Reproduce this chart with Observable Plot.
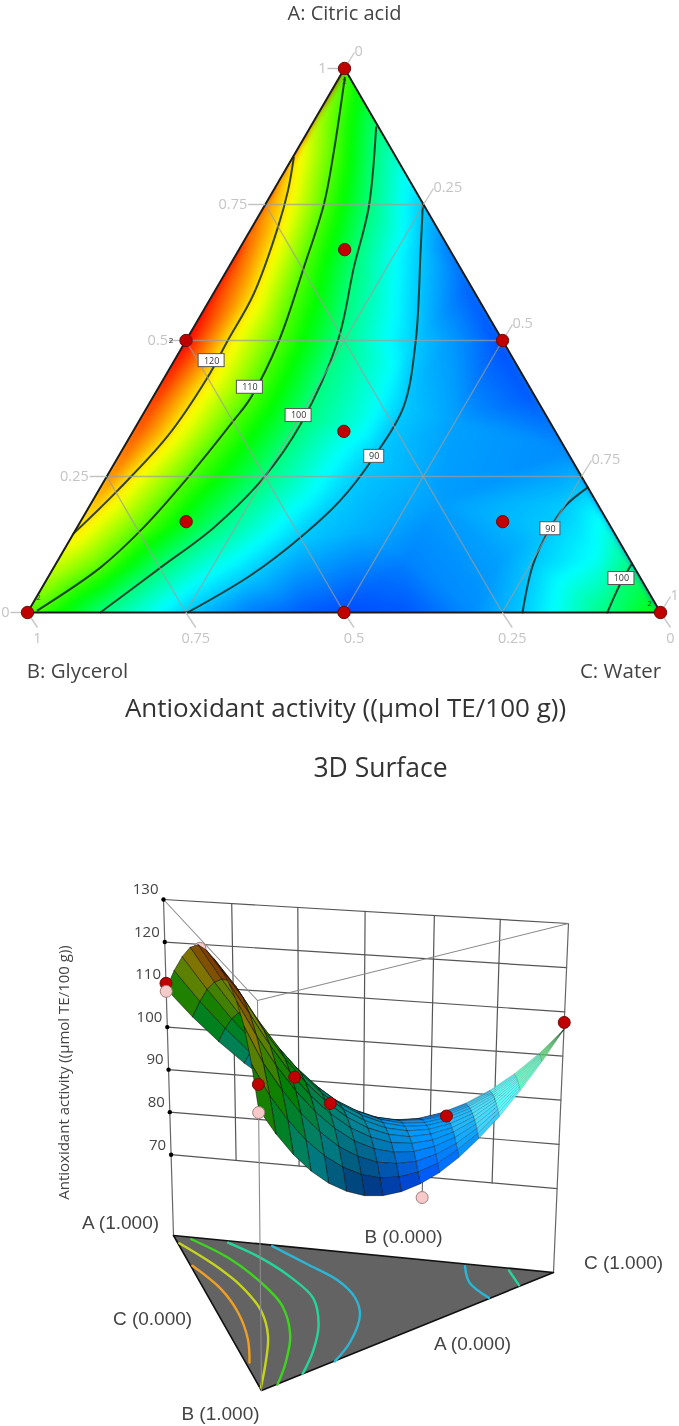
<!DOCTYPE html>
<html><head><meta charset="utf-8">
<script src="https://cdn.jsdelivr.net/npm/d3@7"></script>
<script src="https://cdn.jsdelivr.net/npm/@observablehq/plot@0.6"></script>
<style>html,body{margin:0;padding:0;background:#fff}svg{display:block;filter:blur(.4px)}</style>
</head><body><div id="chart"></div>
<script>
// ---------- data: [A, C] fractions along each contour ----------
const contour120 = [[.836,.002],[.776,.023],[.708,.041],[.586,.064],[.5,.066],[.432,.068],[.324,.059],[.224,.03],[.145,0]];
const contour110 = [[.983,.009],[.849,.059],[.752,.092],[.634,.119],[.5,.147],[.395,.155],[.353,.149],[.248,.129],[.156,.105],[.083,.074],[.004,.014]];
const contour100 = [[.892,.104],[.745,.166],[.634,.198],[.5,.24],[.347,.258],[.248,.249],[.156,.216],[.083,.169],[0,.115]];
const contour90 = [[.752,.248],[.665,.288],[.5,.363],[.377,.405],[.285,.404],[.206,.391],[.138,.362],[.068,.318],[0,.253]];
const contour90b = [[.23,.77],[.197,.752],[.151,.748],[.086,.755],[0,.782]];
const contour100b = [[.09,.91],[.053,.91],[0,.916]];
// further response values: [A, C, response]
const responseSpots = [
  [1,0,109],[.91,0,115],[.75,0,124],[.65,0,128],[.5,0,131],[.35,0,128],[.25,0,125],[.07,0,115],[0,0,109],
  [0,.35,85],[0,.43,83],[0,.5,81.8],[0,.6,82.5],[0,.7,86],[0,1,106],
  [.95,.05,105],[.67,.33,85],[.6,.4,83],[.5,.5,82],[.4,.6,82.5],[.3,.7,86],[.16,.84,95],[.04,.96,103],
  [.5,.42,86.9],[.35,.5,87.3],[.2,.55,87.1],[.1,.55,85.5],[.1,.7,87.4],[.35,.35,94.9],[.15,.45,88.4],[.45,.35,93.7],[.1,.85,94]
];
const contourLabels = [["120",.463,.059],["110",.414,.144],["100",.362,.247],["90",.287,.404],["90",.154,.749],["100",.0625,.907]];
const designA = [1,.5,.5,0,0,0,.667,.333,.167,.167];
const designC = [0,0,.5,0,.5,1,.167,.333,.167,.667];
const replicated = [[1,0],[.5,0],[0,0],[0,1]];
const tickValues = [0,.25,.5,.75,1];
const tickLabels = ["0","0.25","0.5","0.75","1"];

// surface response, rows go from the A-B edge to the C vertex, columns from A to B
const surface = [
 [109,115.8,121.3,125.6,128.2,129,128.9,128.3,127,125,121.5,115.5,108],
 [102.8,108.9,113.9,117.7,120.4,122,122.5,121.9,120.1,117.2,113.2,108.1,101.9],
 [97.5,102.9,107.3,110.7,113.1,114.5,114.9,114.3,112.8,110.2,106.7,102.1,96.6],
 [92.9,97.6,101.5,104.5,106.6,107.8,108.2,107.7,106.3,104.1,100.9,96.9,92.1],
 [89.1,93.2,96.6,99.1,101,102,102.4,101.9,100.7,98.8,96.1,92.6,88.4],
 [86.2,89.6,92.5,94.7,96.3,97.2,97.4,97.1,96,94.4,92,89.1,85.5],
 [84,86.9,89.3,91.1,92.4,93.2,93.4,93.1,92.2,90.8,88.9,86.4,83.3],
 [82.6,85,87,88.5,89.6,90.2,90.4,90.1,89.4,88.2,86.6,84.5,82],
 [82,83.9,85.5,86.7,87.6,88.1,88.2,88,87.4,86.5,85.2,83.5,81.5],
 [82.2,83.7,84.9,85.9,86.5,86.9,87,86.8,86.4,85.7,84.6,83.3,81.8],
 [83.2,84.3,85.2,86,86.4,86.7,86.8,86.7,86.3,85.8,85,84,82.8],
 [85,85.8,86.4,86.9,87.3,87.5,87.5,87.4,87.2,86.8,86.2,85.6,84.7],
 [87.6,88.1,88.5,88.9,89.1,89.2,89.2,89.1,89,88.7,88.4,87.9,87.4],
 [91,91.3,91.5,91.7,91.8,91.9,91.9,91.9,91.8,91.6,91.4,91.2,90.8],
 [95.2,95.3,95.4,95.5,95.6,95.6,95.6,95.6,95.5,95.4,95.3,95.2,95.1],
 [100.2,100.2,100.2,100.3,100.3,100.3,100.3,100.3,100.3,100.2,100.2,100.1,100.1],
 [106,106,106,106,106,106,106,106,106,106,106,106,106]
];
// floor contours of the 3D panel: [B, C] fractions
const floorCyan = [[.005,.251],[.095,.324],[.177,.388],[.278,.416],[.387,.409],[.574,.348],[.731,.272]];
const floorTeal = [[.011,.136],[.081,.202],[.186,.261],[.306,.296],[.483,.275],[.668,.222],[.845,.155]];
const floorGreen = [[.012,.042],[.102,.115],[.229,.168],[.373,.197],[.571,.177],[.778,.119],[.943,.06]];
const floorYellow = [[.042,.004],[.146,.063],[.265,.108],[.421,.129],[.587,.111],[.793,.058],[.978,.003]];
const floorOrange = [[.171,.005],[.301,.048],[.448,.06],[.624,.046],[.793,.012]];
const floorCyanB = [[.014,.758],[.111,.756],[.198,.798]];
const floorTealB = [[.014,.877],[.1,.894]];
// 3D design points: A, B, C, response
const redPoints = [[1,0,0,110.3],[0,1,0,113],[.16,.667,.173,108.2],[.33,.333,.337,95],[.16,.165,.675,89.4],[0,0,1,107.6]];
const pinkBehind = [[.65,.35,0,127.8]];
const pinkFront = [[1,0,0,108.4],[0,1,0,107.3],[0,.43,.57,78.7]];
const zTicks = [70,80,90,100,110,120,130];
const wallFractions = [.163,.323,.488,.66,.826];

// ---------- layout ----------
const W = 679, H = 1426;
const T = {A:[344,68],B:[27,612],C:[660,612]};
const xy = (a,c) => { const b = 1-a-c; return {x:a*T.A[0]+b*T.B[0]+c*T.C[0], y:a*T.A[1]+b*T.B[1]+c*T.C[1]}; };
const stops = [81,93.5,106,118.5,131];
const stopColors = ["#0040ff","#00ffff","#00ff00","#ffff00","#ff0000"];
const rainbow = d3.scaleLinear().domain(stops).range(stopColors).clamp(true);

// 3D camera, read from the box corners
const floor3 = {A:[173,1235],B:[261,1390],C:[553,1272]}, top3 = {A:[163,899],B:[257,1000],C:[568,923]};
const persp = {A:4.25,B:4.94,C:4.42};
function p3(a,b,c,z){
  const f=(z-51)/79; let sx=0,sy=0,sw=0;
  for(const [k,v] of [["A",a],["B",b],["C",c]]){
    const w=v*persp[k]; sw+=w;
    sx+=w*(floor3[k][0]+(top3[k][0]-floor3[k][0])*f);
    sy+=w*(floor3[k][1]+(top3[k][1]-floor3[k][1])*f);
  }
  return {x:sx/sw,y:sy/sw,depth:sw};
}
const series = (id,pts,map) => pts.map(p=>({id,...map(p)}));

// heat field
const field = [];
for(const [lvl,arr] of [[120,contour120],[110,contour110],[100,contour100],[90,contour90],[90,contour90b],[100,contour100b]])
  for(const [a,c] of arr) field.push({...xy(a,c),z:lvl});
for(const [a,c,z] of responseSpots) field.push({...xy(a,c),z});

const contours = [contour120,contour110,contour100,contour90,contour90b,contour100b]
  .flatMap((arr,i)=>series(i,arr,([a,c])=>xy(a,c)));

// grid
const grid = [];
for(const v of [.25,.5,.75]){
  grid.push(...series("a"+v,[[v,0],[v,1-v]],([a,c])=>xy(a,c)));
  grid.push(...series("b"+v,[[1-v,0],[0,1-v]],([a,c])=>xy(a,c)));
  grid.push(...series("c"+v,[[1-v,v],[0,v]],([a,c])=>xy(a,c)));
}
const leftT = tickValues.map((v,i)=>({...xy(v,0),label:tickLabels[i]}));
const rightT = tickValues.map((v,i)=>({...xy(1-v,v),label:tickLabels[i]}));
const bottomT = tickValues.map((v,i)=>({...xy(0,v),label:tickLabels[tickLabels.length-1-i]}));
const triPts = [T.A,T.B,T.C,T.A].map(p=>({x:p[0],y:p[1]}));
const covers = [
  ...[T.B,T.A,[T.A[0]-4,T.A[1]-4],[T.B[0]-4,T.A[1]-4],[T.B[0]-4,T.B[1]]].map(p=>({id:"l",x:p[0],y:p[1]})),
  ...[T.C,T.A,[T.A[0]+4,T.A[1]-4],[T.C[0]+4,T.A[1]-4],[T.C[0]+4,T.C[1]]].map(p=>({id:"r",x:p[0],y:p[1]}))
];
const ternaryLabelBoxes = contourLabels.map(([t,a,c])=>({...xy(a,c),t,hw:t.length>2?13:10}));
const designPts = designA.map((a,i)=>xy(a,designC[i]));
const twos = replicated.map(([a,c])=>xy(a,c));

// 3D walls
const wall = [];
for(const z of zTicks) wall.push(...series("h"+z,[0,1],c=>p3(1-c,0,c,z)));
wallFractions.forEach((f,k)=>wall.push(...series("v"+k,[70,130],z=>p3(1-f,0,f,z))));
const edgesDark = [...series("a",[51,130],z=>p3(1,0,0,z)),...series("c",[51,130],z=>p3(0,0,1,z))];
const edgesGray = [
  ...series("ab",[[1,0],[0,1]],([a,b])=>p3(a,b,0,130)),
  ...series("bc",[[1,0],[0,1]],([b,c])=>p3(0,b,c,130)),
  ...series("bv",[51,130],z=>p3(0,1,0,z))
];
const floorTri = series("f",[[1,0,0],[0,1,0],[0,0,1],[1,0,0]],([a,b,c])=>p3(a,b,c,51));
const floorLines = [[floorCyan,"#2bb6d6"],[floorTeal,"#25d69b"],[floorGreen,"#3ed41f"],[floorYellow,"#c5d321"],[floorOrange,"#ee9f25"],[floorCyanB,"#2bb6d6"],[floorTealB,"#25d69b"]]
  .flatMap(([arr,col],i)=>arr.map(([b,c])=>({id:i,col,...p3(1-b-c,b,c,51)})));
const axisDots = zTicks.map(z=>({...p3(1,0,0,z),t:String(z)}));

// surface mesh
const nT=surface.length-1, nS=surface[0].length-1;
const world=(s,t,z)=>{const a=(1-t)*(1-s),b=(1-t)*s,c=t;return [c+.5*b,-.87*b,(z-51)/79*.9];};
const light=(v=>{const n=Math.hypot(...v);return v.map(d=>d/n);})([-.7,-.35,.62]);
const cells=[];
for(let i=0;i<nT;i++)for(let j=0;j<nS;j++){
  const cs=[[i,j],[i,j+1],[i+1,j+1],[i+1,j]].map(([r,k])=>{
    const s=k/nS,t=r/nT,z=surface[r][k];
    return {s,t,z,...p3((1-t)*(1-s),(1-t)*s,t,z),w:world(s,t,z)};
  });
  const u=cs[2].w.map((d,q)=>d-cs[0].w[q]), v=cs[3].w.map((d,q)=>d-cs[1].w[q]);
  let n=[u[1]*v[2]-u[2]*v[1],u[2]*v[0]-u[0]*v[2],u[0]*v[1]-u[1]*v[0]];
  const nl=Math.hypot(...n); n=n.map(d=>d/nl); if(n[2]<0) n=n.map(d=>-d);
  const dot=n[0]*light[0]+n[1]*light[1]+n[2]*light[2];
  const zm=d3.mean(cs,d=>d.z);
  const base=d3.rgb(rainbow(zm));
  const shade=Math.min(1,.5+.95*Math.max(0,dot));
  const white=Math.max(0,dot-.78)*2;
  const mix=q=>Math.round(q*shade*(1-white)+255*white);
  const col=`rgb(${mix(base.r)},${mix(base.g)},${mix(base.b)})`;
  const tMid=(i+.5)/nT;
  const lineAlpha=tMid<.4?.75:Math.max(.15,.7-(tMid-.4)*1.1);
  cells.push({depth:d3.mean(cs,d=>d.depth),pts:[...cs,cs[0]],col,lineAlpha,id:i+"_"+j});
}
cells.sort((p,q)=>p.depth-q.depth);
const mesh=cells.flatMap(c=>c.pts.map(p=>({id:c.id,x:p.x,y:p.y,col:c.col,lineAlpha:c.lineAlpha})));
const red3=redPoints.map(([a,b,c,z])=>p3(a,b,c,z));
const pinkB3=pinkBehind.map(([a,b,c,z])=>p3(a,b,c,z));
const pinkF3=pinkFront.map(([a,b,c,z])=>p3(a,b,c,z));
const stem=[[0,.43,.57,78.7],[0,.43,.57,83]].map(([a,b,c,z])=>p3(a,b,c,z));

// text annotations
const sans="'Open Sans',sans-serif", arial="'Liberation Sans',Arial,sans-serif";
const bigText=[
  {t:"A: Citric acid",x:344,y:13,size:20,col:"#444"},
  {t:"B: Glycerol",x:77,y:671,size:20.5,col:"#444"},
  {t:"C: Water",x:620,y:671,size:20.5,col:"#444"},
  {t:"Antioxidant activity ((µmol TE/100 g))",x:345,y:708,size:26,col:"#333"},
  {t:"3D Surface",x:380,y:768,size:26.5,col:"#333"}
];
const cornerText=[
  {t:"A (1.000)",x:120,y:1222},{t:"B (0.000)",x:403,y:1236},{t:"C (1.000)",x:623,y:1262},
  {t:"C (0.000)",x:152,y:1318},{t:"A (0.000)",x:472,y:1343},{t:"B (1.000)",x:220,y:1413}
];

const plot=Plot.plot({
  width:W,height:H,margin:0,
  x:{domain:[0,W],range:[0,W],axis:null},
  y:{domain:[0,H],range:[0,H],axis:null},
  color:{type:"linear",domain:stops,range:stopColors,clamp:true,legend:false},
  style:{background:"#fff"},
  marks:[
    Plot.raster(field,{x:"x",y:"y",fill:"z",interpolate:"barycentric",blur:3,pixelSize:1,x1:T.B[0],x2:T.C[0],y1:T.A[1],y2:T.B[1]}),
    Plot.line(covers,{x:"x",y:"y",z:"id",fill:"#fff",stroke:"#fff",strokeWidth:1}),
    Plot.line(contours,{x:"x",y:"y",z:"id",stroke:"#10281e",strokeWidth:2,strokeOpacity:.85,curve:"catmull-rom"}),
    Plot.line(grid,{x:"x",y:"y",z:"id",stroke:"#9c9c9c",strokeWidth:1.4,strokeOpacity:.7}),
    Plot.line(triPts,{x:"x",y:"y",stroke:"#1c1c1c",strokeWidth:2}),
    Plot.link(leftT,{x1:"x",y1:"y",x2:d=>d.x-17,y2:"y",stroke:"#c0c0c0",strokeWidth:1.4}),
    Plot.link(rightT,{x1:"x",y1:"y",x2:d=>d.x+10,y2:d=>d.y-16,stroke:"#c8c8c8",strokeWidth:1.4}),
    Plot.link(bottomT,{x1:"x",y1:"y",x2:d=>d.x+10,y2:d=>d.y+15,stroke:"#c8c8c8",strokeWidth:1.4}),
    Plot.text(leftT,{x:d=>d.x-18,y:"y",text:"label",textAnchor:"end",fontSize:14.5,fontFamily:sans,fill:"#c4c4c4"}),
    Plot.text(rightT,{x:d=>d.x+10,y:d=>d.y-17,text:"label",textAnchor:"start",fontSize:14.5,fontFamily:sans,fill:"#c4c4c4"}),
    Plot.text(bottomT,{x:d=>d.x+10,y:d=>d.y+26,text:"label",textAnchor:"middle",fontSize:14.5,fontFamily:sans,fill:"#c4c4c4"}),
    Plot.text(twos.slice(0,1),{x:"x",y:d=>d.y+13,text:()=>"2",fontSize:8,fill:"#333",fontFamily:sans}),
    Plot.text(twos.slice(1,2),{x:d=>d.x-15,y:"y",text:()=>"2",fontSize:8,fill:"#222",fontFamily:sans}),
    Plot.text(twos.slice(2,3),{x:d=>d.x+11,y:d=>d.y-15,text:()=>"2",fontSize:8,fill:"#333",fontFamily:sans}),
    Plot.text(twos.slice(3,4),{x:d=>d.x-11,y:d=>d.y-9,text:()=>"2",fontSize:8,fill:"#333",fontFamily:sans}),
    Plot.dot(designPts,{x:"x",y:"y",r:6.2,fill:"#c00000",stroke:"#6b0d0d",strokeWidth:1}),
    Plot.rect(ternaryLabelBoxes,{x1:d=>d.x-d.hw,x2:d=>d.x+d.hw,y1:d=>d.y-6.5,y2:d=>d.y+6.5,fill:"#fff",stroke:"#555",strokeWidth:1}),
    Plot.text(ternaryLabelBoxes,{x:"x",y:"y",text:"t",fontSize:9,fontFamily:sans,fill:"#333"}),
    Plot.text(bigText,{x:"x",y:"y",text:"t",fontSize:"size",textAnchor:"middle",fontFamily:sans,fill:"col"}),

    // 3D panel
    Plot.line(wall,{x:"x",y:"y",z:"id",stroke:"#555",strokeWidth:1.2}),
    Plot.line(edgesDark,{x:"x",y:"y",z:"id",stroke:"#666",strokeWidth:1.2}),
    Plot.line(floorTri,{x:"x",y:"y",fill:"#636363",stroke:"#111",strokeWidth:1.6}),
    Plot.line(floorLines,{x:"x",y:"y",z:"id",stroke:"col",strokeWidth:2.4,curve:"catmull-rom"}),
    Plot.line(edgesGray,{x:"x",y:"y",z:"id",stroke:"#8a8a8a",strokeWidth:1.1}),
    Plot.dot(axisDots,{x:"x",y:"y",r:2.2,fill:"#000"}),
    Plot.text(axisDots,{x:d=>d.x-5,y:d=>d.y-10,text:"t",textAnchor:"end",fontSize:15,fontFamily:sans,fill:"#444"}),
    Plot.dot(pinkB3,{x:"x",y:"y",r:6,fill:"#f7c9c9",stroke:"#a08080",strokeWidth:1}),
    Plot.line(stem,{x:"x",y:"y",stroke:"#555",strokeWidth:1}),
    Plot.line(mesh,{x:"x",y:"y",z:"id",fill:"col",stroke:"#0a0a0a",strokeWidth:.7,strokeOpacity:"lineAlpha"}),
    Plot.dot(red3,{x:"x",y:"y",r:6,fill:"#c00000",stroke:"#6b0d0d",strokeWidth:1}),
    Plot.dot(pinkF3,{x:"x",y:"y",r:6,fill:"#f7c9c9",stroke:"#a08080",strokeWidth:1}),
    Plot.text(cornerText,{x:"x",y:"y",text:"t",textAnchor:"middle",fontSize:19,fontFamily:arial,fill:"#444"}),
    Plot.text(["Antioxidant activity ((µmol TE/100 g))"],{x:()=>64,y:()=>1072,text:d=>d,rotate:-90,fontSize:15,fontFamily:sans,fill:"#444"})
  ]
});
document.getElementById("chart").append(plot);
</script>
</body></html>
